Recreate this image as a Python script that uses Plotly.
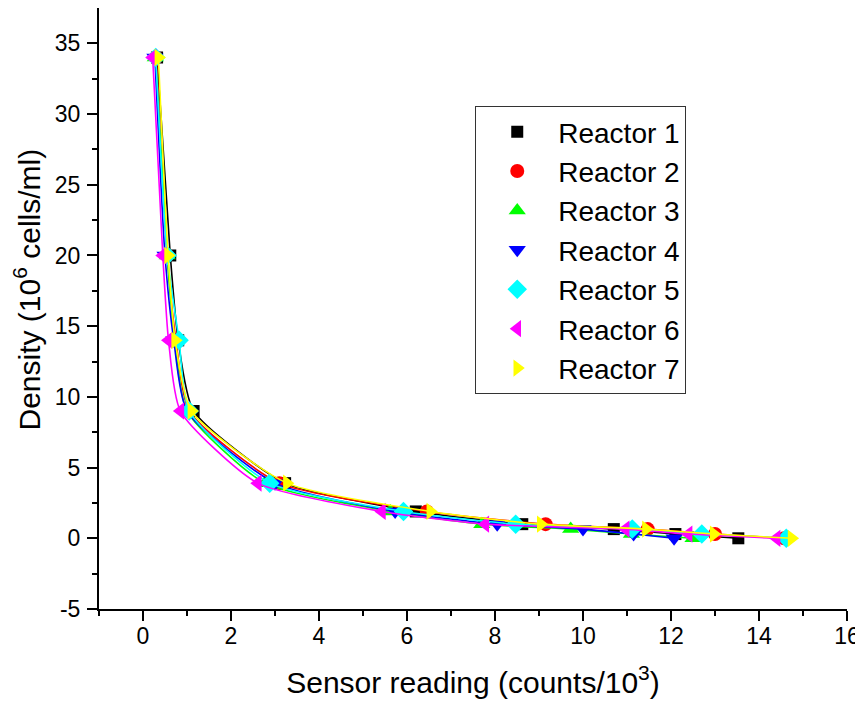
import plotly.graph_objects as go

density = [34, 20, 14, 9, 3.9, 1.9, 1.0, 0.65, 0.3, 0]

reactor_names = ["Reactor 1", "Reactor 2", "Reactor 3", "Reactor 4",
                 "Reactor 5", "Reactor 6", "Reactor 7"]

r1 = [0.32, 0.62, 0.80, 1.15, 3.23, 6.20, 8.62, 10.70, 12.10, 13.53]
r2 = [0.30, 0.55, 0.75, 1.05, 3.10, 6.45, 9.15, 11.47, 13.00, 14.57]
r3 = [0.28, 0.55, 0.72, 1.00, 2.77, 5.62, 7.70, 9.72, 11.10, 12.50]
r4 = [0.27, 0.50, 0.70, 1.00, 3.00, 5.73, 8.05, 10.00, 11.15, 12.07]
r5 = [0.29, 0.55, 0.82, 1.05, 2.88, 5.92, 8.47, 11.12, 12.70, 14.62]
r6 = [0.22, 0.45, 0.58, 0.85, 2.61, 5.43, 7.78, 10.97, 12.40, 14.40]
r7 = [0.35, 0.57, 0.73, 1.10, 3.27, 6.53, 9.04, 11.43, 12.97, 14.74]

readings = [r1, r2, r3, r4, r5, r6, r7]

x_tickvals = [0, 2, 4, 6, 8, 10, 12, 14, 16]
y_tickvals = [-5, 0, 5, 10, 15, 20, 25, 30, 35]
y_ticktext = ["-5", "0", "5", "10", "15", "20", "25", "30", "35"]

x_title = "Sensor reading (counts/10<sup>3</sup>)"
y_title = "Density (10<sup>6</sup> cells/ml)"

colors = ["#000000", "#FF0000", "#00FF00", "#0000FF", "#00FFFF", "#FF00FF", "#FFFF00"]
symbols = ["square", "circle", "triangle-up", "triangle-down", "diamond",
           "triangle-left", "triangle-right"]
sizes = [12, 14, 15, 15, 15, 15, 15]

FONT = "Arial, Liberation Sans, sans-serif"

fig = go.Figure()
for i, (name, xs, c, s, sz) in enumerate(zip(reactor_names, readings, colors, symbols, sizes)):
    fig.add_trace(go.Scatter(
        x=xs, y=density, name=name, mode="lines", legendgroup=f"r{i}",
        showlegend=False, hoverinfo="skip",
        line=dict(color=c, width=1.6, shape="spline", smoothing=0.6),
    ))
    fig.add_trace(go.Scatter(
        x=xs, y=density, name=name, mode="markers", legendgroup=f"r{i}",
        marker=dict(color=c, symbol=s, size=sz, line=dict(width=0)),
    ))

axis_common = dict(
    showline=True, linecolor="black", linewidth=2,
    ticks="outside", ticklen=10, tickwidth=2, tickcolor="black",
    showgrid=False, zeroline=False, mirror=False, automargin=False,
    tickfont=dict(family=FONT, size=23, color="black"),
)

fig.update_xaxes(
    range=[-1, 16], tickvals=x_tickvals,
    minor=dict(tickvals=[-1, 1, 3, 5, 7, 9, 11, 13, 15], ticklen=5,
               tickwidth=2, tickcolor="black", ticks="outside"),
    title=dict(text=x_title,
               font=dict(family=FONT, size=30, color="black"), standoff=24),
    ticklabelstandoff=-5,
    **axis_common,
)
fig.update_yaxes(
    range=[-5, 37.5], tickvals=y_tickvals, ticktext=y_ticktext,
    minor=dict(tickvals=[-2.5, 2.5, 7.5, 12.5, 17.5, 22.5, 27.5, 32.5], ticklen=5,
               tickwidth=2, tickcolor="black", ticks="outside"),
    ticklabelstandoff=2,
    **axis_common,
)

fig.add_annotation(
    text=y_title, textangle=-90, showarrow=False,
    xref="paper", yref="paper", x=(27 - 99) / 748, y=(609 - 289) / 602,
    xanchor="center", yanchor="middle",
    font=dict(family=FONT, size=30, color="black"),
)

fig.update_layout(
    width=855, height=703,
    margin=dict(l=91, r=16, t=0, b=102),
    plot_bgcolor="white", paper_bgcolor="white",
    font=dict(family=FONT, color="black"),
    legend=dict(
        x=0.503, y=0.837, xanchor="left", yanchor="top",
        bgcolor="white", bordercolor="#333333", borderwidth=1,
        font=dict(family=FONT, size=28, color="black"),
        itemwidth=72, tracegroupgap=0,
    ),
    showlegend=True,
)

fig.write_html("out.html")
